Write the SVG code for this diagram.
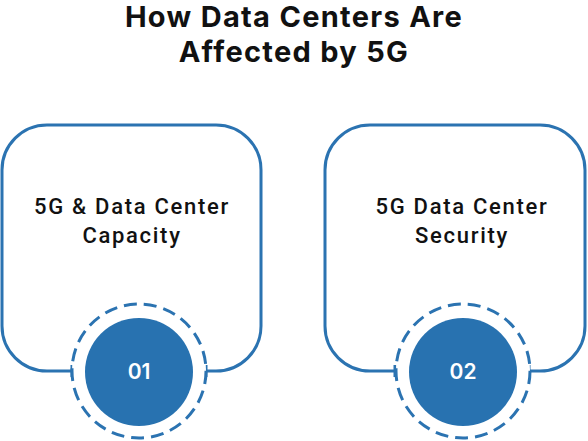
<svg xmlns="http://www.w3.org/2000/svg" width="588" height="441" viewBox="0 0 588 441">
<style>
.title{font-family:Inter,"Liberation Sans",sans-serif;font-weight:700;font-size:29px;letter-spacing:1.3px;fill:#111;text-anchor:middle}
.box{fill:none;stroke:#2b73b1;stroke-width:3}
.lbl{font-family:Roboto,"Open Sans","Liberation Sans",sans-serif;font-weight:500;font-size:22px;letter-spacing:1.7px;fill:#111;text-anchor:middle}
.dash{fill:#fff;stroke:#2b73b1;stroke-width:3;stroke-dasharray:13 7}
.dot{fill:#2872b0}
.num{font-family:Inter,"Liberation Sans",sans-serif;font-weight:600;font-size:21px;fill:#fff;text-anchor:middle}
</style>
<rect width="588" height="441" fill="#fff"/>
<g id="title">
<text class="title" x="294" y="27">How Data Centers Are</text>
<text class="title" x="294" y="62">Affected by 5G</text>
</g>
<g id="connectors">
<path class="box" d="M72 371 H47 A45 45 0 0 1 2 326 V170 A45 45 0 0 1 47 125 H216 A45 45 0 0 1 261 170 V326 A45 45 0 0 1 216 371 H206"/>
<path class="box" d="M72 365 V377 M206 365 V377"/>
<path class="box" d="M395 371 H370 A45 45 0 0 1 325 326 V170 A45 45 0 0 1 370 125 H540 A45 45 0 0 1 585 170 V326 A45 45 0 0 1 540 371 H529"/>
<path class="box" d="M395 365 V377 M529 365 V377"/>
</g>
<g id="node1">
<text class="lbl" x="132" y="214">5G &amp; Data Center</text>
<text class="lbl" x="132" y="243">Capacity</text>
<circle class="dash" cx="139" cy="371" r="67"/>
<circle class="dot" cx="139" cy="372" r="54"/>
<text class="num" x="139" y="379">01</text>
</g>
<g id="node2">
<text class="lbl" x="462" y="214">5G Data Center</text>
<text class="lbl" x="462" y="243">Security</text>
<circle class="dash" cx="463" cy="371" r="67"/>
<circle class="dot" cx="463" cy="372" r="54"/>
<text class="num" x="463" y="379">02</text>
</g>
</svg>
